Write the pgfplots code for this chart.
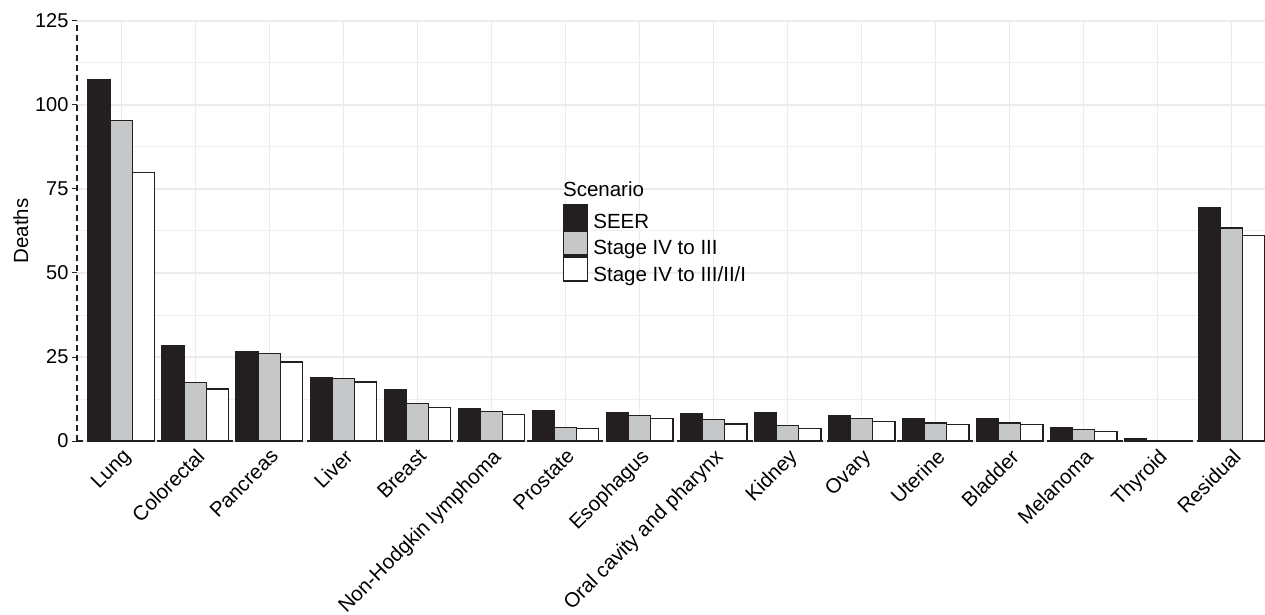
\documentclass[border=0pt]{standalone}
\usepackage{pgfplots}
\pgfplotsset{compat=1.18}
\usepackage{fontspec}
\setmainfont{Liberation Sans}
\definecolor{cblack}{HTML}{231F20}
\definecolor{cgray}{HTML}{C6C7C8}
\definecolor{cgrid}{HTML}{EBEBEB}
\begin{document}
\begin{tikzpicture}
\useasboundingbox (-77bp,-174bp) rectangle (1188bp,441bp);
\begin{axis}[
  at={(0,0)}, anchor=south west,
  scale only axis, width=1188bp, height=420bp,
  xmin=-0.6, xmax=15.45, ymin=0, ymax=125,
  axis lines*=left,
  axis line style={cblack, dashed, line width=1.2bp, dash pattern=on 6bp off 4bp},
  xtick={0,...,15},
  xticklabels={Lung,Colorectal,Pancreas,Liver,Breast,Non-Hodgkin lymphoma,Prostate,Esophagus,Oral cavity and pharynx,Kidney,Ovary,Uterine,Bladder,Melanoma,Thyroid,Residual},
  x tick label style={rotate=45, anchor=north east, inner sep=1bp, font=\fontsize{20.5bp}{24bp}\selectfont},
  ytick={0,25,50,75,100,125},
  minor ytick={12.5,37.5,62.5,87.5,112.5},
  y tick label style={font=\fontsize{20bp}{24bp}\selectfont},
  /pgf/number format/assume math mode=true,
  major x tick style={draw=none},
  major y tick style={cblack, line width=1bp},
  tick align=outside, major tick length=5bp, minor tick length=0pt,
  xmajorgrids, ymajorgrids, yminorgrids,
  major grid style={cgrid, line width=1.5bp},
  minor grid style={cgrid!80!white, line width=1bp},
  ylabel={Deaths},
  ylabel style={font=\fontsize{20.5bp}{24bp}\selectfont},
  bar width=0.3,
  legend image code/.code={\draw[#1, line width=1.3bp] (0bp,-6.5bp) rectangle (24bp,17.5bp);},
  legend style={at={(0.409,0.564)}, anchor=north west, draw=none, fill=none,
    inner sep=0pt, row sep=0pt, column sep=5bp,
    font=\fontsize{20.5bp}{24bp}\selectfont, nodes={inner sep=0pt, anchor=west}},
  legend cell align=left,
]
\addplot[ybar, bar shift=-0.3, fill=cblack, draw=cblack, line width=1.3bp] coordinates {
(0,107.4) (1,28.3) (2,26.5) (3,18.8) (4,15.4) (5,9.7) (6,9.1) (7,8.3) (8,8.1) (9,8.3) (10,7.6) (11,6.7) (12,6.6) (13,4.1) (14,0.8) (15,69.5)};
\addlegendentry{SEER}
\addplot[ybar, bar shift=0, fill=cgray, draw=cblack, line width=1.3bp] coordinates {
(0,95.3) (1,17.5) (2,26.0) (3,18.5) (4,11.1) (5,8.7) (6,4.0) (7,7.5) (8,6.3) (9,4.6) (10,6.7) (11,5.4) (12,5.4) (13,3.4) (14,0.2) (15,63.4)};
\addlegendentry{Stage IV to III}
\addplot[ybar, bar shift=0.3, fill=white, draw=cblack, line width=1.3bp] coordinates {
(0,79.9) (1,15.5) (2,23.5) (3,17.6) (4,10.0) (5,7.8) (6,3.8) (7,6.7) (8,5.1) (9,3.8) (10,5.7) (11,5.0) (12,4.9) (13,2.9) (14,0.15) (15,61.1)};
\addlegendentry{Stage IV to III/II/I}
\node[anchor=base west, inner sep=0pt, font=\fontsize{20.5bp}{24bp}\selectfont] at (rel axis cs:0.409,0.581) {Scenario};
\end{axis}
\end{tikzpicture}
\end{document}
